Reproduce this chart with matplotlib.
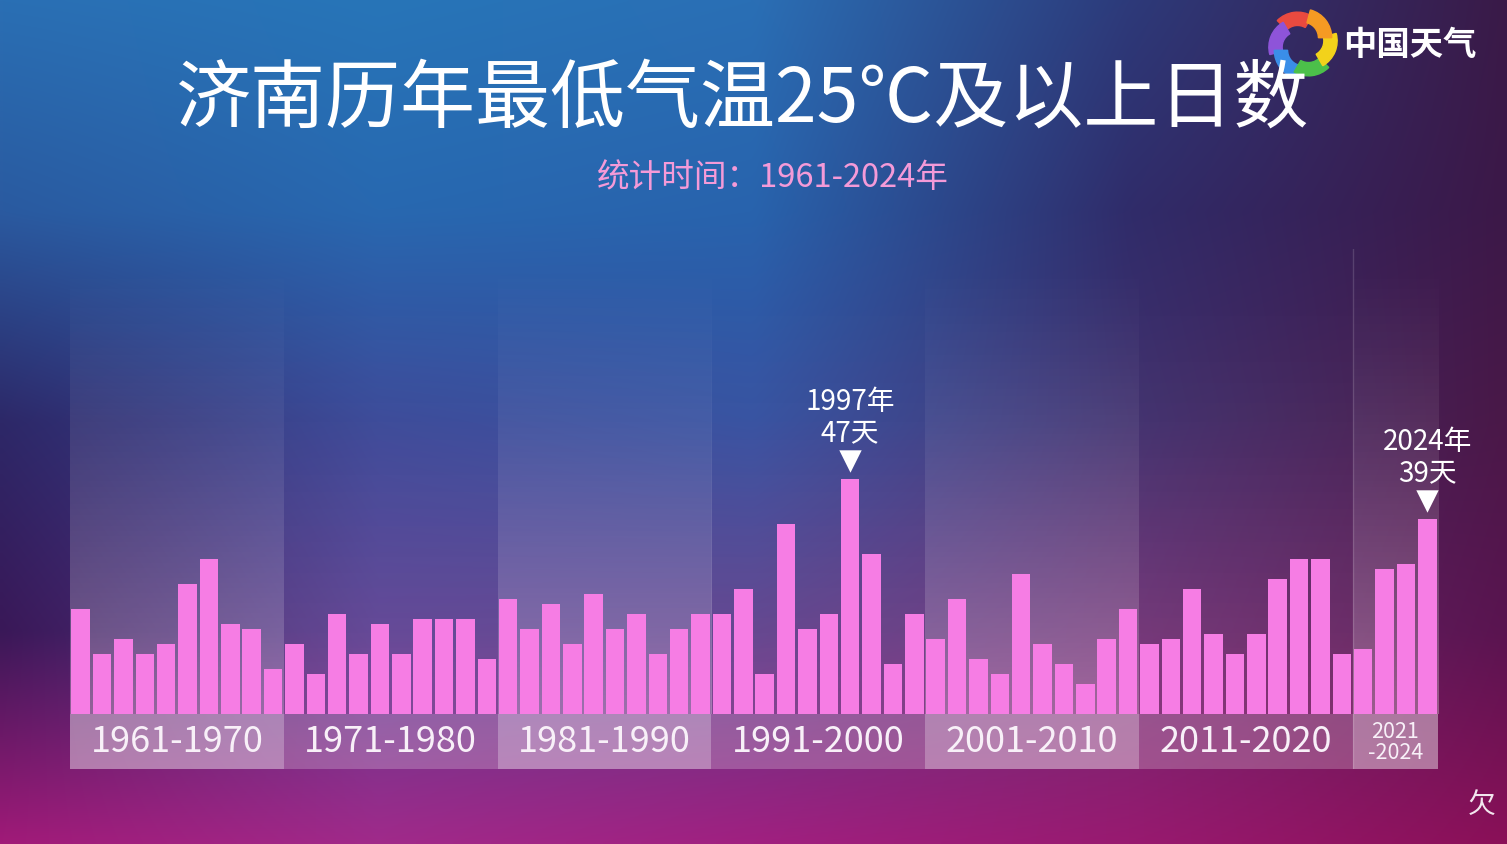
import numpy as np
import matplotlib
matplotlib.use('Agg')
import matplotlib.pyplot as plt
from matplotlib.patches import Wedge, Rectangle

plt.rcParams['font.family'] = ['Noto Sans CJK SC', 'DejaVu Sans']

# data: days with daily minimum temperature >= 25C, Jinan
years = list(range(1961, 2025))
days = [21, 12, 15, 12, 14, 26, 31, 18, 17, 9,
        14, 8, 20, 12, 18, 12, 19, 19, 19, 11,
        23, 17, 22, 14, 24, 17, 20, 12, 17, 20,
        20, 25, 8, 38, 17, 20, 47, 32, 10, 20,
        15, 23, 11, 8, 28, 14, 10, 6, 15, 21,
        14, 15, 25, 16, 12, 16, 27, 31, 31, 12,
        13, 29, 30, 39]
decade_labels = ['1961-1970', '1971-1980', '1981-1990', '1991-2000',
                 '2001-2010', '2011-2020', '2021\n-2024']
decade_first = [1961, 1971, 1981, 1991, 2001, 2011, 2021]
decade_last = [1970, 1980, 1990, 2000, 2010, 2020, 2024]
highlight = [1997, 2024]

title = '济南历年最低气温25℃及以上日数'
subtitle = '统计时间：1961-2024年'

W, H = 1507, 845
fig = plt.figure(figsize=(W / 100, H / 100), dpi=100)

# background gradient
bg = fig.add_axes([0, 0, 1, 1])
grid_hex = [
    ['#2a6fb4', '#2775b8', '#2a6fb5', '#2d3a7a', '#3a1a48'],
    ['#2a5aa0', '#2868b0', '#2863ad', '#302c6a', '#3c1848'],
    ['#2d2868', '#3a4898', '#3550a0', '#40306e', '#4a1848'],
    ['#3a1858', '#5a3c90', '#5a3a88', '#6a2a70', '#5a1450'],
    ['#a01a78', '#a02a8a', '#a02080', '#981a70', '#8a1058'],
]
grid = np.array([[matplotlib.colors.to_rgb(c) for c in row] for row in grid_hex])
# upsample bilinearly
ny, nx = 200, 300
yi = np.linspace(0, grid.shape[0] - 1, ny)
xi = np.linspace(0, grid.shape[1] - 1, nx)
img = np.zeros((ny, nx, 3))
for ch in range(3):
    tmp = np.array([np.interp(xi, np.arange(grid.shape[1]), grid[r, :, ch]) for r in range(grid.shape[0])])
    img[:, :, ch] = np.array([np.interp(yi, np.arange(grid.shape[0]), tmp[:, c]) for c in range(nx)]).T
bg.imshow(img, extent=(0, W, H, 0), aspect='auto', interpolation='bilinear')
bg.set_xlim(0, W)
bg.set_ylim(H, 0)
bg.axis('off')

# main chart axes: baseline at y=715px, 5px per day
ax = fig.add_axes([70 / W, 75 / H, 1368 / W, 520 / H])
ax.patch.set_alpha(0)
ax.axis('off')

x = np.arange(len(years))
for i, (a, b) in enumerate(zip(decade_first, decade_last)):
    x0 = years.index(a) - 0.5
    x1 = years.index(b) + 0.5
    amax = 0.30 if i % 2 == 0 else 0.10
    ramp = np.linspace(1, 0, 100) ** 1.3
    rgba = np.ones((100, 1, 4))
    rgba[:, 0, 3] = amax * ramp
    # row 0 sits at the baseline (strongest), fading upward
    ax.imshow(rgba, extent=(x0, x1, 0, 93), origin='lower', aspect='auto',
              interpolation='bilinear', zorder=1)
    band_alpha = 0.42 if i % 2 == 0 else 0.22
    ax.add_patch(Rectangle((x0, -11), x1 - x0, 11, facecolor='white',
                           alpha=band_alpha, edgecolor='none', zorder=1))
    fs = 26 if '\n' not in decade_labels[i] else 15.5
    ax.text((x0 + x1) / 2, -5.5, decade_labels[i], ha='center', va='center',
            color='#f8f0f8', fontsize=fs, linespacing=0.95, zorder=4)
ax.plot([years.index(2021) - 0.5] * 2, [-11, 93], color='white', alpha=0.15, lw=1, zorder=2)
ax.set_xlim(-0.5, 63.5)
ax.set_ylim(-11, 93)

ax.bar(x, days, width=0.87, color='#f67de4', zorder=3)

for yr in highlight:
    i = years.index(yr)
    v = days[i]
    ax.scatter([i], [v + 3.6], marker='v', s=260, color='white', zorder=5, linewidths=0)
    ax.text(i, v + 12.5, '%d年\n%d天' % (yr, v), ha='center', va='center',
            color='white', fontsize=20, linespacing=1.05, zorder=5)

# titles
fig.text(743 / W, 1 - 100 / H, title, ha='center', va='center', color='white',
         fontsize=54)
fig.text(773 / W, 1 - 178 / H, subtitle, ha='center', va='center', color='#f49ad8',
         fontsize=23.5)

# logo
lax = fig.add_axes([1268 / W, 1 - 80 / H, 70 / W, 70 / H])
lax.set_xlim(-1, 1)
lax.set_ylim(-1, 1)
lax.set_aspect('equal')
lax.axis('off')
logo_cols = ['#e94a3f', '#8e54d9', '#3a8ee8', '#4cc04a', '#f2d21b', '#f59a23']
for k, c in enumerate(logo_cols):
    ang = 60 + k * 60
    off = 0.18
    cx = off * np.cos(np.radians(ang + 90))
    cy = off * np.sin(np.radians(ang + 90))
    lax.add_patch(Wedge((cx, cy), 0.82, ang, ang + 75, width=0.38, color=c))
fig.text(1343 / W, 1 - 45 / H, '中国天气', ha='left', va='center', color='white',
         fontsize=24, fontweight='bold')

fig.text(1482 / W, 1 - 805 / H, '欠', ha='center', va='center', color='white',
         fontsize=20, alpha=0.9)

fig.savefig('out.png', dpi=100)
